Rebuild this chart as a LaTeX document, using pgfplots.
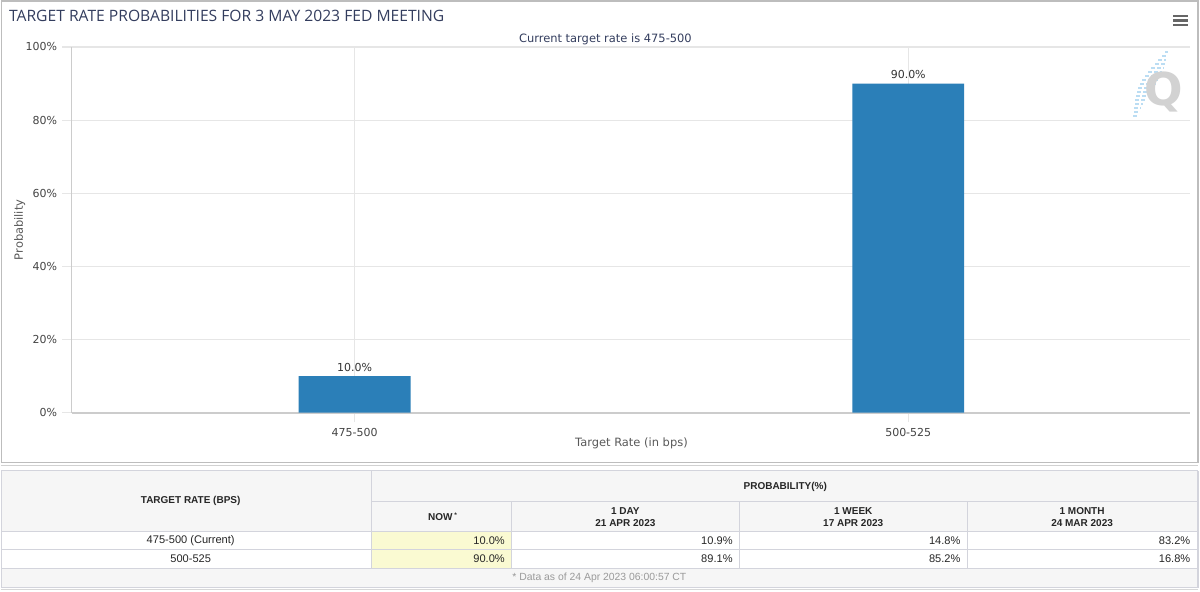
\documentclass[border=0pt]{standalone}
\usepackage{pgfplots}
\pgfplotsset{compat=1.18}
\usepackage{fontspec}
\setmainfont{DejaVu Sans}
\newfontfamily\titlefont{Open Sans}
\newfontfamily\tabfont{Liberation Sans}

\definecolor{navy}{HTML}{333D5E}
\definecolor{barblue}{HTML}{2B7FB8}
\definecolor{gridc}{HTML}{E6E6E6}
\definecolor{axisc}{HTML}{CCCCCC}
\definecolor{tickc}{HTML}{444444}
\definecolor{framec}{HTML}{BDBDBD}
\definecolor{tline}{HTML}{D3D4DC}
\definecolor{thead}{HTML}{F6F6F6}
\definecolor{nowbg}{HTML}{FAFAD2}
\definecolor{footc}{HTML}{9A9A9A}
\definecolor{qgray}{HTML}{D2D2D2}
\definecolor{qblue}{HTML}{BBDDF3}

\begin{document}
\begin{tikzpicture}
% page and frames, in pixel units of the reference
\begin{scope}[x=0.75pt,y=-0.75pt]
  \fill[white] (0,0) rectangle (1200,592);
  \draw[framec, line width=1pt] (0.5,1) -- (1198,1) -- (1198,463) -- (0.5,463) -- cycle;
  \draw[framec!70, line width=1pt] (0,466) -- (1198,466);
  \node[anchor=west, inner sep=0pt, text=navy, font=\titlefont\fontsize{11.75}{14}\selectfont] at (8,16) {TARGET RATE PROBABILITIES FOR 3 MAY 2023 FED MEETING};
  \node[text=navy, font=\fontsize{8.6}{10}\selectfont] at (605,39) {Current target rate is 475-500};
  % menu icon
  \foreach \yy in {16,20.5,25} \draw[black!60, line width=1.6pt] (1173,\yy) -- (1188,\yy);
  % watermark: slanted band of short dashes and a grey Q
  \foreach \yy/\xa/\xb in {52/1165/1168, 56/1162/1167, 60/1158/1166, 64/1155/1165, 68/1151/1164, 72/1148/1162, 76/1145/1160, 80/1142/1158, 84/1140/1156, 88/1138/1154, 92/1137/1151, 96/1136/1148, 100/1135/1146, 104/1135/1143, 108/1134/1141, 112/1134/1139, 116/1133/1137}
    \draw[qblue, line width=1pt, dash pattern=on 3pt off 1.5pt] (\xa,\yy) -- (\xb,\yy);
  \node[text=qgray, font=\fontsize{34}{34}\selectfont\bfseries] at (1164,92) {Q};

  % table
  \fill[thead] (0.5,471) rectangle (1198,532);
  \fill[thead] (0.5,569) rectangle (1198,588);
  \fill[nowbg] (371,532) rectangle (511,569);
  \draw[tline, line width=0.8pt] (0.5,471) -- (1198,471);
  \draw[tline, line width=0.8pt] (371,502) -- (1198,502);
  \foreach \yy in {532,550,569} \draw[tline, line width=0.8pt] (0.5,\yy) -- (1198,\yy);
  \draw[tline, line width=0.8pt] (371,471) -- (371,569);
  \foreach \xx in {511,739,967} \draw[tline, line width=0.8pt] (\xx,502) -- (\xx,569);
  \draw[tline, line width=0.8pt] (0.5,471) -- (0.5,588) -- (1198,588) -- (1198,471);
  \draw[framec!60, line width=1.2pt] (0,590) -- (1198,590);

  \begin{scope}[every node/.style={font=\tabfont\bfseries\fontsize{7.5}{9}\selectfont, text=black!85}]
    \node at (190,501) {TARGET RATE (BPS)};
    \node at (785,487) {PROBABILITY(\%)};
    \node at (442,517) {NOW\,\raisebox{0.7ex}{\fontsize{5}{5}\selectfont *}};
    \node[align=center] at (625,517) {1 DAY\\21 APR 2023};
    \node[align=center] at (853,517) {1 WEEK\\17 APR 2023};
    \node[align=center] at (1082,517) {1 MONTH\\24 MAR 2023};
  \end{scope}
  \begin{scope}[every node/.style={font=\tabfont\fontsize{8.3}{10}\selectfont, text=black!85}]
    \node at (190,541) {475-500 (Current)};
    \node at (190,559) {500-525};
    \node[anchor=east] at (509,541) {10.0\%};
    \node[anchor=east] at (737,541) {10.9\%};
    \node[anchor=east] at (965,541) {14.8\%};
    \node[anchor=east] at (1195,541) {83.2\%};
    \node[anchor=east] at (509,559) {90.0\%};
    \node[anchor=east] at (737,559) {89.1\%};
    \node[anchor=east] at (965,559) {85.2\%};
    \node[anchor=east] at (1195,559) {16.8\%};
    \node[text=footc, font=\tabfont\fontsize{7.8}{9}\selectfont] at (599,578) {* Data as of 24 Apr 2023 06:00:57 CT};
  \end{scope}
\end{scope}

\begin{axis}[
    at={(53.25pt,-309.75pt)}, anchor=south west,
    scale only axis,
    width=839.25pt, height=274.5pt,
    xmin=-0.511, xmax=1.509,
    ymin=0, ymax=100,
    axis x line*=bottom, axis y line*=left,
    axis line style={axisc, line width=1pt},
    x axis line style={line width=1.5pt},
    xtick={0,1}, xticklabels={475-500,500-525},
    ytick={0,20,40,60,80,100},
    yticklabel={\pgfmathprintnumber{\tick}\%},
    /pgf/number format/assume math mode=true,
    tick align=outside,
    major tick length=7pt,
    tick style={gridc, line width=0.8pt},
    xmajorgrids, ymajorgrids,
    grid style={gridc, line width=0.8pt},
    ticklabel style={font=\fontsize{8.25}{10}\selectfont, text=tickc},
    yticklabel style={xshift=-0.5pt},
    xticklabel style={yshift=-1pt},
    xlabel={Target Rate (in bps)},
    ylabel={Probability},
    label style={font=\fontsize{8.6}{10}\selectfont, text=black!65},
    xlabel style={at={(axis description cs:0.5005,-0.0847)}, anchor=center},
    ylabel style={at={(axis description cs:-0.0465,0.5)}, anchor=center},
    ybar, bar width=84pt,
    nodes near coords={\pgfmathprintnumber[fixed,fixed zerofill,precision=1]{\pgfplotspointmeta}\%},
    nodes near coords style={font=\fontsize{8.25}{10}\selectfont, text=black!80, yshift=0pt},
]
\addplot[fill=barblue, draw=none] coordinates {(0,10) (1,90)};
\end{axis}
\end{tikzpicture}
\end{document}
